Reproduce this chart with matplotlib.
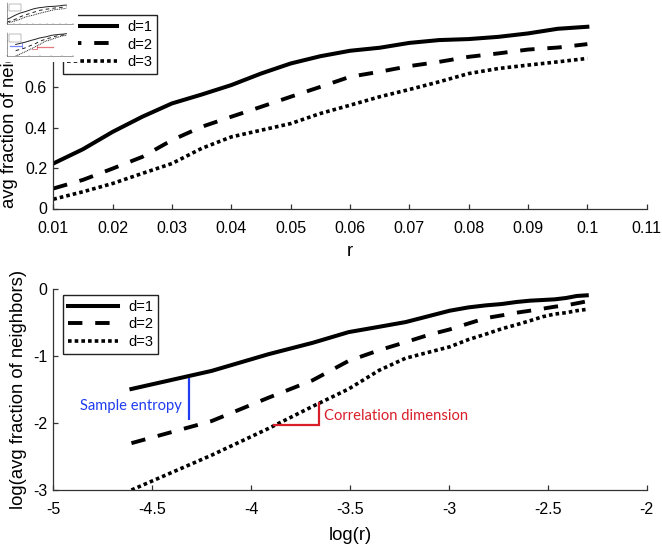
import numpy as np
import matplotlib
matplotlib.use("Agg")
import matplotlib.pyplot as plt

# ---------------- data ----------------
r = [0.010, 0.015, 0.020, 0.025, 0.030, 0.035, 0.040, 0.045, 0.050, 0.055,
     0.060, 0.065, 0.070, 0.075, 0.080, 0.085, 0.090, 0.095, 0.100]
frac_d1 = [0.223, 0.294, 0.380, 0.455, 0.521, 0.565, 0.612, 0.669, 0.719, 0.755,
           0.782, 0.797, 0.821, 0.835, 0.840, 0.851, 0.868, 0.891, 0.901]
frac_d2 = [0.099, 0.142, 0.198, 0.256, 0.339, 0.405, 0.455, 0.504, 0.554, 0.603,
           0.653, 0.678, 0.706, 0.727, 0.752, 0.769, 0.788, 0.798, 0.815]
frac_d3 = [0.046, 0.083, 0.124, 0.174, 0.223, 0.298, 0.355, 0.388, 0.421, 0.471,
           0.512, 0.554, 0.590, 0.628, 0.669, 0.694, 0.711, 0.727, 0.744]

log_r = [-4.605, -4.200, -3.912, -3.689, -3.507, -3.352, -3.219, -3.101, -2.996, -2.900,
         -2.813, -2.733, -2.659, -2.590, -2.526, -2.465, -2.408, -2.354, -2.303]
log_frac_d1 = [-1.49, -1.22, -0.97, -0.80, -0.64, -0.56, -0.49, -0.40, -0.32, -0.27,
               -0.24, -0.22, -0.19, -0.17, -0.16, -0.15, -0.13, -0.10, -0.09]
log_frac_d2 = [-2.30, -1.97, -1.62, -1.36, -1.07, -0.91, -0.79, -0.68, -0.60, -0.51,
               -0.43, -0.39, -0.35, -0.32, -0.29, -0.26, -0.24, -0.21, -0.18]
log_frac_d3 = [-3.00, -2.48, -2.08, -1.75, -1.49, -1.21, -1.03, -0.94, -0.86, -0.75,
               -0.67, -0.59, -0.53, -0.47, -0.41, -0.37, -0.35, -0.32, -0.30]

series_labels = ["d=1", "d=2", "d=3"]

top_xticks = [0.01, 0.02, 0.03, 0.04, 0.05, 0.06, 0.07, 0.08, 0.09, 0.10, 0.11]
top_xticklabels = ["0.01", "0.02", "0.03", "0.04", "0.05", "0.06", "0.07", "0.08", "0.09", "0.1", "0.11"]
top_yticks = [0, 0.2, 0.4, 0.6, 0.8, 1.0]
top_yticklabels = ["0", "0.2", "0.4", "0.6", "0.8", "1"]
bot_xticks = [-5, -4.5, -4, -3.5, -3, -2.5, -2]
bot_xticklabels = ["-5", "-4.5", "-4", "-3.5", "-3", "-2.5", "-2"]
bot_yticks = [-3, -2, -1, 0]
bot_yticklabels = ["-3", "-2", "-1", "0"]

# annotation anchors (data coords of bottom panel)
se_x, se_y0, se_y1 = -4.316, -1.33, -1.96
cd_x0, cd_x1, cd_y0, cd_y1 = -3.883, -3.659, -2.028, -1.704

# ---------------- styling ----------------
plt.rcParams['font.family'] = ['Liberation Sans', 'DejaVu Sans']
W, H = 662, 545
fig = plt.figure(figsize=(W / 100, H / 100), dpi=100)
fig.patch.set_facecolor('white')

def px_axes(left, top, right, bottom):
    return [left / W, 1 - bottom / H, (right - left) / W, (bottom - top) / H]

SPINE = '#333333'
styles = [dict(linestyle='-', linewidth=2.9),
          dict(linestyle=(0, (3.7, 3.3)), linewidth=2.8),
          dict(linestyle=(0, (1.0, 0.85)), linewidth=2.6)]

def style_axes(ax):
    for s in ['top', 'right']:
        ax.spines[s].set_visible(False)
    for s in ['left', 'bottom']:
        ax.spines[s].set_color(SPINE)
        ax.spines[s].set_linewidth(0.9)
    ax.tick_params(axis='both', direction='in', length=3.6, width=0.9, color=SPINE,
                   labelsize=11.5, labelcolor='black')
    ax.tick_params(axis='x', pad=9.0)
    ax.tick_params(axis='y', pad=4.5)

# ---------------- top panel ----------------
ax1 = fig.add_axes(px_axes(53.3, 6.8, 646.7, 208.5))
for ys, lab, st in zip([frac_d1, frac_d2, frac_d3], series_labels, styles):
    ax1.plot(r, ys, color='black', label=lab, **st)
ax1.set_xlim(0.01, 0.11)
ax1.set_ylim(0, 1.0)
ax1.set_xticks(top_xticks)
ax1.set_xticklabels(top_xticklabels)
ax1.set_yticks(top_yticks)
ax1.set_yticklabels(top_yticklabels)
style_axes(ax1)
ax1.set_xlabel("r", fontsize=13.3, labelpad=5)
ax1.set_ylabel("avg fraction of neighbors", fontsize=13.3)
ax1.yaxis.set_label_coords(-0.059, 0.505)
leg_kw = dict(loc='upper left', fontsize=10.5, handlelength=3.4, handletextpad=0.7,
              labelspacing=0.25, borderpad=0.33, borderaxespad=0, fancybox=False,
              framealpha=1, edgecolor='#222222')
lg1 = ax1.legend(bbox_to_anchor=(0.0157, 0.959), **leg_kw)
lg1.get_frame().set_linewidth(1.0)

# ---------------- bottom panel ----------------
ax2 = fig.add_axes(px_axes(53.3, 289.3, 646.7, 490))
for ys, lab, st in zip([log_frac_d1, log_frac_d2, log_frac_d3], series_labels, styles):
    ax2.plot(log_r, ys, color='black', label=lab, **st)
ax2.set_xlim(-5, -2)
ax2.set_ylim(-3, 0)
ax2.set_xticks(bot_xticks)
ax2.set_xticklabels(bot_xticklabels)
ax2.set_yticks(bot_yticks)
ax2.set_yticklabels(bot_yticklabels)
style_axes(ax2)
ax2.set_xlabel("log(r)", fontsize=13.3, labelpad=7)
ax2.set_ylabel("log(avg fraction of neighbors)", fontsize=13.3)
ax2.yaxis.set_label_coords(-0.045, 0.5)
lg2 = ax2.legend(bbox_to_anchor=(0.0169, 0.972), **leg_kw)
lg2.get_frame().set_linewidth(1.0)

BLUE = '#1f3cf0'
RED = '#d81e28'
ax2.plot([se_x, se_x], [se_y0, se_y1], color=BLUE, lw=1.6, solid_capstyle='butt')
ax2.text(se_x - 0.035, -1.74, "Sample entropy", color=BLUE, fontsize=10.6,
         family=['Lato', 'DejaVu Sans'], ha='right', va='center')
ax2.plot([cd_x0, cd_x1, cd_x1], [cd_y0, cd_y0, cd_y1], color=RED, lw=1.6,
         solid_joinstyle='miter')
ax2.text(cd_x1 + 0.028, -1.89, "Correlation dimension", color=RED, fontsize=10.6,
         family=['Lato', 'DejaVu Sans'], ha='left', va='center')

# ---------------- thumbnail overlay (top-left) ----------------
bg = fig.add_axes(px_axes(0, 0, 78, 62))
bg.set_facecolor('white')
bg.set_xticks([]); bg.set_yticks([])
for s in bg.spines.values():
    s.set_visible(False)
bg.set_zorder(10)

def mini(ax, xs, series, xl, yl, xt, yt, annot=False):
    ax.set_zorder(11)
    ax.patch.set_alpha(0)
    for ys, st in zip(series, styles):
        ax.plot(xs, ys, color='#222222', linestyle=st['linestyle'], linewidth=0.7)
    ax.set_xlim(*xl); ax.set_ylim(*yl)
    ax.set_xticks(xt); ax.set_yticks(yt)
    ax.set_xticklabels([]); ax.set_yticklabels([])
    for s in ['top', 'right']:
        ax.spines[s].set_visible(False)
    for s in ['left', 'bottom']:
        ax.spines[s].set_linewidth(0.4)
        ax.spines[s].set_color('#555555')
    ax.tick_params(direction='in', length=1.0, width=0.3, colors='#666666')
    ax.add_patch(plt.Rectangle((0.03, 0.62), 0.18, 0.33, transform=ax.transAxes,
                               fill=False, lw=0.3, ec='#666666'))
    if annot:
        ax.plot([se_x, se_x], [se_y0, se_y1], color=BLUE, lw=0.4)
        ax.plot([cd_x0, cd_x1, cd_x1], [cd_y0, cd_y0, cd_y1], color=RED, lw=0.4)
        ax.plot([-4.86, -4.35], [-1.74, -1.74], color=BLUE, lw=0.9, alpha=0.6)
        ax.plot([-3.63, -2.91], [-1.89, -1.89], color=RED, lw=0.9, alpha=0.6)

m1 = fig.add_axes(px_axes(7, 3, 73, 24))
mini(m1, r, [frac_d1, frac_d2, frac_d3], (0.01, 0.11), (0, 1), top_xticks, top_yticks)
m2 = fig.add_axes(px_axes(7, 33, 73, 56))
mini(m2, log_r, [log_frac_d1, log_frac_d2, log_frac_d3], (-5, -2), (-3, 0),
     bot_xticks, bot_yticks, annot=True)

fig.savefig("out.png", dpi=100, facecolor='white')
